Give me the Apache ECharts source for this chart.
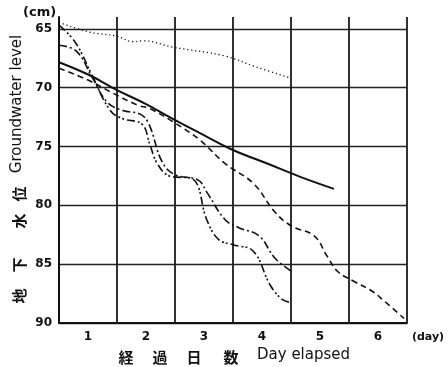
<!DOCTYPE html>
<html><head><meta charset="utf-8">
<script src="https://cdn.jsdelivr.net/npm/echarts@6/dist/echarts.min.js"></script>
<style>html,body{margin:0;padding:0;background:#fff}#c{width:448px;height:367px}</style>
</head><body><div id="c"></div>
<script>
// ---- data ----
const dayLabels = ['1', '2', '3', '4', '5', '6'];
const yTicks = [65, 70, 75, 80, 85, 90];

const dottedDays   = [0.5, 1.0, 1.5, 1.78, 1.95, 2.47, 3.35, 3.91, 4.5];
const dottedValues = [64.45, 65.25, 65.64, 66.1, 66.02, 66.57, 67.3, 68.26, 69.2];

const solidDays   = [0.5, 1.03, 1.5, 2.0, 2.47, 2.93, 3.5, 4.09, 4.66, 5.24];
const solidValues = [67.84, 68.95, 70.21, 71.4, 72.67, 73.86, 75.3, 76.45, 77.58, 78.6];

const dashedDays   = [0.5, 1.0, 1.43, 1.85, 2.07, 2.47, 2.93, 3.35, 3.86, 4.21, 4.5, 4.9, 5.12, 5.3, 5.6, 5.9, 6.1, 6.45];
const dashedValues = [68.35, 69.36, 70.47, 71.48, 71.8, 72.92, 74.45, 76.4, 78.18, 80.5, 81.74, 82.6, 84.3, 85.6, 86.5, 87.3, 88.1, 89.62];

const dashDotDays   = [0.5, 0.8, 1.07, 1.33, 1.6, 1.9, 2.05, 2.28, 2.5, 2.9, 3.05, 3.36, 3.6, 3.95, 4.22, 4.5];
const dashDotValues = [66.4, 66.9, 69.11, 71.23, 71.95, 72.25, 73.1, 76.33, 77.4, 77.86, 78.9, 81.2, 81.9, 82.6, 84.47, 85.58];

const dashDot2Days   = [0.5, 0.78, 1.07, 1.38, 1.6, 1.93, 2.07, 2.19, 2.4, 2.8, 3.05, 3.25, 3.5, 3.85, 4.14, 4.35, 4.5];
const dashDot2Values = [64.7, 66.14, 68.95, 71.92, 72.65, 73.1, 74.89, 76.42, 77.5, 77.75, 81.25, 82.9, 83.35, 83.9, 86.77, 88.0, 88.26];

function pairs(xs, ys) { return xs.map((x, i) => [x, ys[i]]); }

const ink = '#111';
function lineSeries(xs, ys, type, width) {
  return {
    type: 'line', xAxisIndex: 1, yAxisIndex: 0,
    data: pairs(xs, ys), symbol: 'none', smooth: 0.4,
    lineStyle: { color: ink, width: width, type: type }, silent: true, animation: false
  };
}

const chart = echarts.init(document.getElementById('c'), null, { renderer: 'canvas' });
const cjk = '"Noto Sans CJK JP", "DejaVu Sans", sans-serif';
const lat = '"DejaVu Sans", sans-serif';

chart.setOption({
  animation: false,
  backgroundColor: '#fff',
  grid: { left: 59, right: 41, top: 17, bottom: 44, containLabel: false },
  xAxis: [
    {
      type: 'category', data: dayLabels, boundaryGap: true, position: 'bottom',
      axisLine: { show: true, onZero: false, lineStyle: { color: ink, width: 2 } },
      axisTick: { show: false },
      axisLabel: { color: ink, fontWeight: 'bold', fontSize: 12, margin: 8, fontFamily: lat },
      splitLine: { show: true, lineStyle: { color: '#1a1a1a', width: 1.8 } }
    },
    { type: 'value', min: 0.5, max: 6.5, show: false }
  ],
  yAxis: [{
    type: 'value', min: 64, max: 90, inverse: true,
    axisLine: { show: true, lineStyle: { color: ink, width: 2 } },
    axisTick: { show: false, customValues: yTicks },
    axisLabel: { customValues: yTicks, color: ink, fontWeight: 'bold', fontSize: 12, margin: 7, fontFamily: lat },
    splitLine: { show: true, lineStyle: { color: '#222', width: 1.4 } }
  }],
  series: [
    lineSeries(dottedDays, dottedValues, [1.2, 2.8], 1.3),
    lineSeries(solidDays, solidValues, 'solid', 2),
    lineSeries(dashedDays, dashedValues, [6, 4], 1.6),
    lineSeries(dashDotDays, dashDotValues, [8, 3, 2, 3], 1.6),
    lineSeries(dashDot2Days, dashDot2Values, [8, 3, 2, 2, 2, 3], 1.6)
  ],
  graphic: [
    { type: 'text', left: 23, top: 6, style: { text: '(cm)', font: 'bold 13px ' + lat, fill: ink } },
    { type: 'text', x: 428, y: 337, style: { text: '(day)', font: 'bold 11px ' + lat, fill: ink, align: 'center', verticalAlign: 'middle' } },
    { type: 'text', x: 17, y: 104, rotation: Math.PI / 2, style: { text: 'Groundwater level', font: '15px ' + lat, fill: ink, align: 'center', verticalAlign: 'middle' } },
    { type: 'text', x: 19, y: 194, rotation: Math.PI / 2, style: { text: '位', font: 'bold 15px ' + cjk, fill: ink, align: 'center', verticalAlign: 'middle' } },
    { type: 'text', x: 19, y: 221, rotation: Math.PI / 2, style: { text: '水', font: 'bold 15px ' + cjk, fill: ink, align: 'center', verticalAlign: 'middle' } },
    { type: 'text', x: 19, y: 265, rotation: Math.PI / 2, style: { text: '下', font: 'bold 15px ' + cjk, fill: ink, align: 'center', verticalAlign: 'middle' } },
    { type: 'text', x: 19, y: 296, rotation: Math.PI / 2, style: { text: '地', font: 'bold 15px ' + cjk, fill: ink, align: 'center', verticalAlign: 'middle' } },
    { type: 'text', x: 126, y: 357, style: { text: '経', font: 'bold 15px ' + cjk, fill: ink, align: 'center', verticalAlign: 'middle' } },
    { type: 'text', x: 160, y: 357, style: { text: '過', font: 'bold 15px ' + cjk, fill: ink, align: 'center', verticalAlign: 'middle' } },
    { type: 'text', x: 194, y: 357, style: { text: '日', font: 'bold 15px ' + cjk, fill: ink, align: 'center', verticalAlign: 'middle' } },
    { type: 'text', x: 231, y: 357, style: { text: '数', font: 'bold 15px ' + cjk, fill: ink, align: 'center', verticalAlign: 'middle' } },
    { type: 'text', x: 257, y: 355, style: { text: 'Day elapsed', font: '15px ' + lat, fill: ink, align: 'left', verticalAlign: 'middle' } }
  ]
});
</script>
</body></html>
